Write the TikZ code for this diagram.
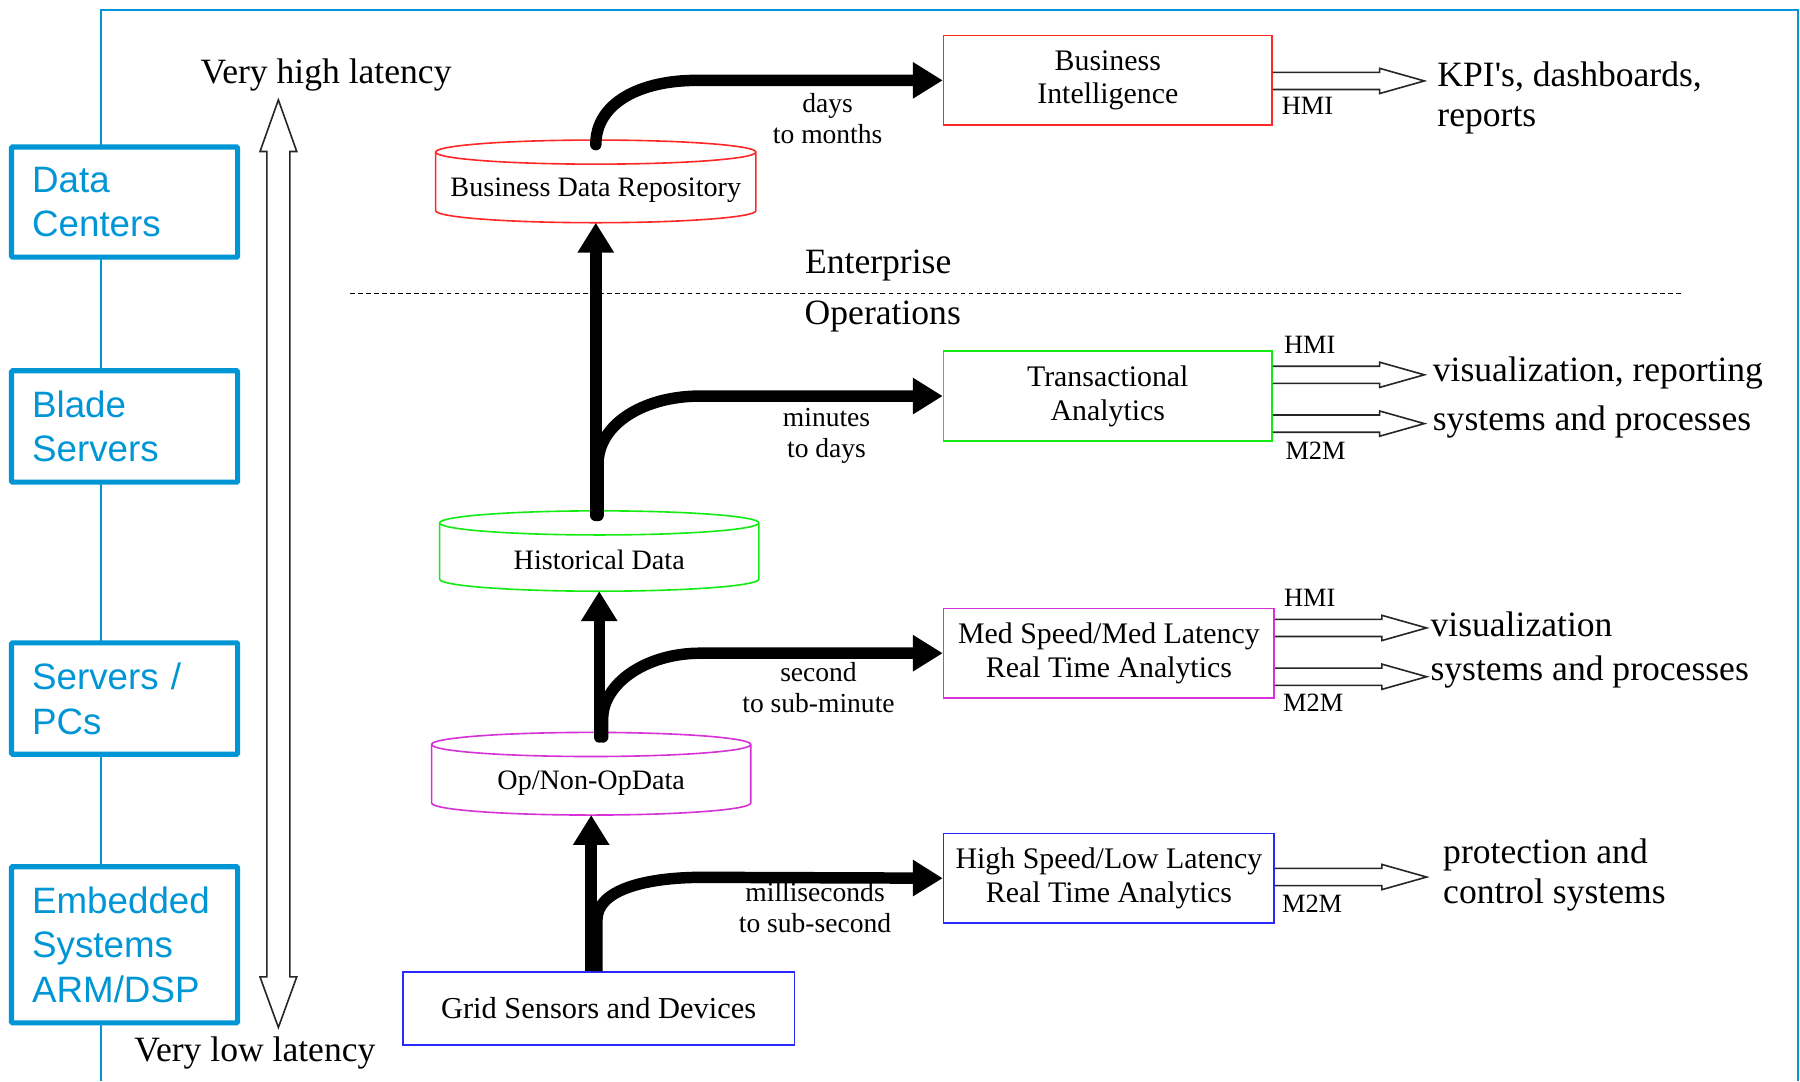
\documentclass[tikz,border=0pt]{standalone}
\usepackage{fontspec}
\setmainfont{Liberation Serif}[Ligatures=TeXOff]
\newfontfamily\tiersans{Liberation Sans}
\usetikzlibrary{arrows.meta,calc}

\definecolor{tierblue}{RGB}{0,150,214}
\definecolor{bired}{RGB}{255,40,40}
\definecolor{opgreen}{RGB}{20,235,20}
\definecolor{rtmagenta}{RGB}{215,50,215}
\definecolor{hsblue}{RGB}{40,40,255}

% data store drawn as a cylinder: name, colour, centre x, top y, bottom y, half width, label
\newcommand\storecyl[7]{%
  \draw[#2,line width=1.4pt] (#3-#6,#4+10.5) -- (#3-#6,#5-10.5)
     arc[start angle=180,end angle=360,x radius=#6pt,y radius=10.5pt]
     -- (#3+#6,#4+10.5)
     arc[start angle=0,end angle=360,x radius=#6pt,y radius=10.5pt];
  \coordinate (#1-top) at (#3,#4+4);
  \coordinate (#1-bot) at (#3,#5);
  \node[cyltxt] (#1) at (#3,{(#4+#5)/2+8}) {#7};
}

\tikzset{
  pics/outarrow/.style={code={
    \draw[hollow] (0,-7.5) -- (93,-7.5) -- (93,-11) -- (132,0) -- (93,11) -- (93,7.5) -- (0,7.5);
  }}
}

\begin{document}
\begin{tikzpicture}[x=1pt,y=-1pt,
  every node/.style={inner sep=0pt},
  tier/.style={draw=tierblue,line width=4.5pt,fill=white,rounded corners=1pt,
     minimum width=197pt,text width=161pt,align=left,text=tierblue,
     font=\tiersans\fontsize{32}{39}\selectfont},
  proc/.style={draw,line width=1.5pt,minimum width=286pt,minimum height=78pt,
     align=center,font=\fontsize{26}{29.5}\selectfont},
  cyltxt/.style={font=\fontsize{24.5}{28}\selectfont},
  big/.style={font=\fontsize{31}{35}\selectfont,align=left},
  timing/.style={font=\fontsize{24}{27}\selectfont,align=center},
  iface/.style={font=\fontsize{23}{26}\selectfont},
  flow/.style={line width=10pt,line cap=round,-{Triangle[length=26pt,width=30pt]}},
  hollow/.style={line width=1.4pt,draw=black!85,line join=miter},
  frame/.style={draw=tierblue,line width=2pt}
]
\useasboundingbox[fill=white] (0,0) rectangle (1568,942);

% outer frame
\draw[frame] (88,942) -- (88,9) -- (1566,9) -- (1566,942);

% hardware tiers
\node[tier,minimum height=96pt] (dc) at (108.5,176) {Data\\Centers};
\node[tier,minimum height=97pt] (blade) at (108.5,371.5) {Blade\\Servers};
\node[tier,minimum height=97pt] (pcs) at (108.5,608.5) {Servers /\\PCs};
\node[tier,minimum height=136pt] (emb) at (108.5,823) {Embedded\\Systems\\ARM/DSP};

% latency scale
\node[big] (vhigh) at (284,65) {Very high latency};
\node[big] (vlow) at (222,917) {Very low latency};
\draw[hollow] (242.5,87) -- (258.5,132) -- (252.5,132) -- (252.5,851) -- (258.5,851)
  -- (242.5,895) -- (226.5,851) -- (232.5,851) -- (232.5,132) -- (226.5,132) -- cycle;

% enterprise / operations split
\node[big] (ent) at (765,231) {Enterprise};
\node[big] (ops) at (769,276) {Operations};
\draw[line width=1pt,dash pattern=on 4pt off 3pt] (305,256) -- (1465,256);

% data stores
\storecyl{bdr}{bired}{519}{122}{194}{139.5}{Business Data Repository}
\storecyl{hist}{opgreen}{522}{445}{515}{139}{Historical Data}
\storecyl{opd}{rtmagenta}{515}{638}{710}{139}{Op/Non-OpData}

% processing blocks
\node[proc,draw=bired] (bi) at (965,70) {Business\\Intelligence};
\node[proc,draw=opgreen] (tr) at (965,345) {Transactional\\Analytics};
\node[proc,draw=rtmagenta,minimum width=288pt] (med) at (966,569) {Med Speed/Med Latency\\Real Time Analytics};
\node[proc,draw=hsblue,minimum width=288pt] (hs) at (966,765) {High Speed/Low Latency\\Real Time Analytics};
\node[proc,draw=hsblue,minimum width=341pt,minimum height=63pt,font=\fontsize{26.5}{30}\selectfont] (grid) at (521.5,878.5) {Grid Sensors and Devices};

% data flows
\draw[flow,line cap=butt] (grid.north -| opd-bot) -- (opd-bot);
\draw[flow,line cap=butt] ($(grid.north -| opd-bot)+(5,0)$) -- ++(0,-45)
  .. controls +(0,-26) and +(-50,0) .. ++(92,-37) -- (hs.west);
\draw[flow] (opd-top -| hist-bot) -- (hist-bot);
\draw[flow] ($(opd-top -| hist-bot)+(3,0)$) -- ++(0,-16)
  .. controls +(0,-30) and +(-48,0) .. ++(85,-57) -- (med.west);
\draw[flow] (hist-top -| bdr-bot) -- (bdr-bot);
\draw[flow] ($(hist-top -| bdr-bot)+(2,0)$) -- ++(0,-45)
  .. controls +(0,-34) and +(-50,0) .. ++(89,-59) -- (tr.west);
\draw[flow] (bdr-top) .. controls +(0,-36) and +(-50,0) .. ++(88,-56) -- (bi.west);

% latency of each flow
\node[timing] (t1) at (721,103.5) {days\\to months};
\node[timing] (t2) at (720,379.5) {minutes\\to days};
\node[timing] (t3) at (713,599) {second\\to sub-minute};
\node[timing] (t4) at (710,790.5) {milliseconds\\to sub-second};

% outputs
\pic at ($(bi.east)+(0,0.5)$) {outarrow};
\pic at ($(tr.east)+(0,-18.5)$) {outarrow};
\pic at ($(tr.east)+(0,24)$) {outarrow};
\pic at ($(med.east)+(0,-22)$) {outarrow};
\pic at ($(med.east)+(0,20.5)$) {outarrow};
\pic at ($(hs.east)+(0,-1)$) {outarrow};

\node[iface] (bihmi) at (1139,92) {HMI};
\node[iface] (trhmi) at (1141,300) {HMI};
\node[iface] (trm2m) at (1146,393) {M2M};
\node[iface] (medhmi) at (1141,521) {HMI};
\node[iface] (medm2m) at (1144,612) {M2M};
\node[iface] (hsm2m) at (1143,787) {M2M};

\node[big,anchor=west] (kpi) at (1252,85.5) {KPI's, dashboards,\\reports};
\node[big,anchor=west] (trvis) at (1248,325) {visualization, reporting};
\node[big,anchor=west] (trsys) at (1248,368) {systems and processes};
\node[big,anchor=west] (medvis) at (1246,544) {visualization};
\node[big,anchor=west] (medsys) at (1246,585) {systems and processes};
\node[big,anchor=west] (prot) at (1257,762) {protection and\\control systems};
\end{tikzpicture}
\end{document}
